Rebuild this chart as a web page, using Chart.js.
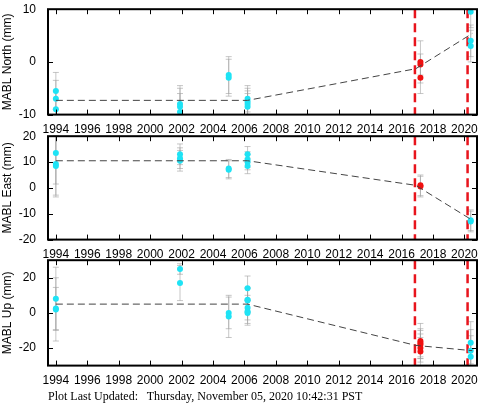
<!DOCTYPE html>
<html>
<head>
<meta charset="utf-8">
<script src="https://cdn.jsdelivr.net/npm/chart.js@4"></script>
<style>
  body { margin: 0; background: #fff; width: 481px; height: 404px; position: relative; overflow: hidden; }
  .panel { position: absolute; left: 0; width: 481px; }
  #footer { position: absolute; left: 48px; top: 389px; font: 12px "Liberation Serif", serif; color: #000; white-space: pre; }
</style>
</head>
<body>
<div class="panel" style="top:-2px;height:139px"><canvas id="north"></canvas></div>
<div class="panel" style="top:125px;height:137px"><canvas id="east"></canvas></div>
<div class="panel" style="top:249px;height:139px"><canvas id="up"></canvas></div>
<div id="footer">Plot Last Updated:   Thursday, November 05, 2020 10:42:31 PST</div>
<script>
const xTicks = [1994, 1996, 1998, 2000, 2002, 2004, 2006, 2008, 2010, 2012, 2014, 2016, 2018, 2020];
const campaignLines = [2016.85, 2020.2];
const northTicks = [-10, 0, 10];
const eastTicks = [-20, -10, 0, 10, 20];
const upTicks = [-20, 0, 20];

// North
const northCyanX = [1994.0, 1994.0, 1994.0, 2001.9, 2001.9, 2001.9, 2005.0, 2005.0, 2006.2, 2006.2, 2006.2, 2006.2, 2020.4, 2020.4, 2020.4];
const northCyanY = [-5.5, -7, -9, -8, -8.5, -9.5, -2.5, -3, -7, -7.5, -8, -8.5, 9.5, 4, 3];
const northCyanErr = [3.5, 3.5, 3.5, 3.5, 3.5, 3.5, 3.5, 3.5, 2.5, 2.5, 2.5, 2.5, 3, 3, 3];
const northRedX = [2017.2, 2017.2, 2017.2];
const northRedY = [0, -0.5, -3];
const northRedErr = [4, 2, 3];
const northModel = [[1994.0, -7.3], [2006.2, -7.3], [2016.9, -1.3], [2020.5, 5.4]];

// East
const eastCyanX = [1994.0, 1994.0, 1994.0, 2001.9, 2001.9, 2001.9, 2005.0, 2005.0, 2006.2, 2006.2, 2006.2, 2006.2, 2020.4, 2020.4];
const eastCyanY = [13.5, 9.2, 8.5, 13, 11.5, 10.5, 7.5, 7, 13, 11, 10, 8.5, -12.5, -13];
const eastCyanErr = [12, 12, 12, 4, 4, 4, 3.5, 3.5, 3, 3, 3, 3, 4, 4];
const eastRedX = [2017.2, 2017.2];
const eastRedY = [1, 0.5];
const eastRedErr = [4, 4];
const eastModel = [[1994.0, 10.5], [2006.2, 10.5], [2016.9, 1], [2020.5, -12.5]];

// Up
const upCyanX = [1994.0, 1994.0, 1994.0, 2001.9, 2001.9, 2005.0, 2005.0, 2006.2, 2006.2, 2006.2, 2006.2, 2006.2, 2006.2, 2020.4, 2020.4, 2020.4];
const upCyanY = [8, 2, 2.5, 25, 17, 0, -2, 14, 7.5, 7, 3, 1, 0, -17, -21.5, -25];
const upCyanErr = [18, 18, 12, 3, 10, 9, 12, 7, 7, 7, 7, 7, 7, 12, 12, 12];
const upRedX = [2017.2, 2017.2, 2017.2, 2017.2, 2017.2];
const upRedY = [-16, -17, -18, -20, -22];
const upRedErr = [10, 8, 8, 8, 8];
const upModel = [[1994.0, 5], [2006.2, 5], [2016.9, -18.5], [2020.5, -21.5]];

const pts = (xs, ys, es) => xs.map((x, i) => ({ x, y: ys[i], e: es[i] }));

const panelPlugin = {
  id: 'panel',
  beforeDatasetsDraw(chart) {
    const { ctx, chartArea: a, scales: { x, y } } = chart;
    ctx.save();
    // error bars
    ctx.strokeStyle = 'rgba(160,160,160,0.6)';
    ctx.lineWidth = 1;
    chart.data.datasets.forEach((ds) => {
      if (!ds.errors) return;
      ds.data.forEach((p) => {
        const px = x.getPixelForValue(p.x);
        const y1 = Math.min(a.bottom, y.getPixelForValue(p.y - p.e));
        const y2 = Math.max(a.top, y.getPixelForValue(p.y + p.e));
        ctx.beginPath();
        ctx.moveTo(px, y1); ctx.lineTo(px, y2);
        ctx.moveTo(px - 3, y1); ctx.lineTo(px + 3, y1);
        ctx.moveTo(px - 3, y2); ctx.lineTo(px + 3, y2);
        ctx.stroke();
      });
    });
    // campaign lines
    ctx.strokeStyle = '#e8141c';
    ctx.lineWidth = 2.5;
    ctx.setLineDash([9, 5]);
    campaignLines.forEach((v) => {
      const px = x.getPixelForValue(v);
      ctx.beginPath(); ctx.moveTo(px, a.top); ctx.lineTo(px, a.bottom); ctx.stroke();
    });
    ctx.restore();
  },
  afterDraw(chart) {
    const { ctx, chartArea: a, scales: { x, y } } = chart;
    ctx.save();
    ctx.strokeStyle = '#000';
    ctx.lineWidth = 1;
    x.ticks.forEach((t) => {
      const px = Math.round(x.getPixelForValue(t.value)) + 0.5;
      ctx.beginPath();
      ctx.moveTo(px, a.bottom); ctx.lineTo(px, a.bottom - 5);
      ctx.moveTo(px, a.top); ctx.lineTo(px, a.top + 5);
      ctx.stroke();
    });
    y.ticks.forEach((t) => {
      const py = Math.round(y.getPixelForValue(t.value)) + 0.5;
      ctx.beginPath();
      ctx.moveTo(a.left, py); ctx.lineTo(a.left + 5, py);
      ctx.moveTo(a.right, py); ctx.lineTo(a.right - 5, py);
      ctx.stroke();
    });
    ctx.lineWidth = 2;
    ctx.strokeRect(a.left, a.top, a.right - a.left, a.bottom - a.top);
    ctx.restore();
  },
};

const makePanel = (id, title, yMin, yMax, yTicks, cyan, red, model) => {
  new Chart(document.getElementById(id), {
    type: 'scatter',
    data: {
      datasets: [
        {
          data: model.map(([x, y]) => ({ x, y })),
          showLine: true,
          borderColor: '#444',
          borderWidth: 1,
          borderDash: [7, 4],
          pointRadius: 0,
        },
        { data: cyan, errors: true, backgroundColor: '#1ee3f5', borderWidth: 0, pointRadius: 3 },
        { data: red, errors: true, backgroundColor: '#f01010', borderWidth: 0, pointRadius: 3 },
      ],
    },
    options: {
      responsive: true,
      maintainAspectRatio: false,
      animation: false,
      layout: { padding: { top: 7, right: 1, left: 0, bottom: 0 } },
      plugins: { legend: { display: false }, tooltip: { enabled: false } },
      scales: {
        x: {
          type: 'linear',
          min: 1993.5,
          max: 2020.8,
          afterBuildTicks: (s) => { s.ticks = xTicks.map((v) => ({ value: v })); },
          ticks: { color: '#000', font: { family: 'Liberation Sans', size: 12 }, maxRotation: 0, padding: 0, callback: (v) => String(v) },
          grid: { display: false },
          border: { display: false },
        },
        y: {
          min: yMin,
          max: yMax,
          afterBuildTicks: (s) => { s.ticks = yTicks.map((v) => ({ value: v })); },
          ticks: { color: '#000', font: { family: 'Liberation Sans', size: 12 }, padding: 4 },
          grid: { display: false },
          border: { display: false },
          title: { display: true, text: title, color: '#000', font: { family: 'Liberation Sans', size: 12 }, padding: 0 },
          afterFit: (s) => { s.width = 48; },
        },
      },
    },
    plugins: [panelPlugin],
  });
};

makePanel('north', 'MABL North (mm)', -10, 10, northTicks, pts(northCyanX, northCyanY, northCyanErr), pts(northRedX, northRedY, northRedErr), northModel);
makePanel('east', 'MABL East (mm)', -20, 20, eastTicks, pts(eastCyanX, eastCyanY, eastCyanErr), pts(eastRedX, eastRedY, eastRedErr), eastModel);
makePanel('up', 'MABL Up (mm)', -30, 30, upTicks, pts(upCyanX, upCyanY, upCyanErr), pts(upRedX, upRedY, upRedErr), upModel);
</script>
</body>
</html>
